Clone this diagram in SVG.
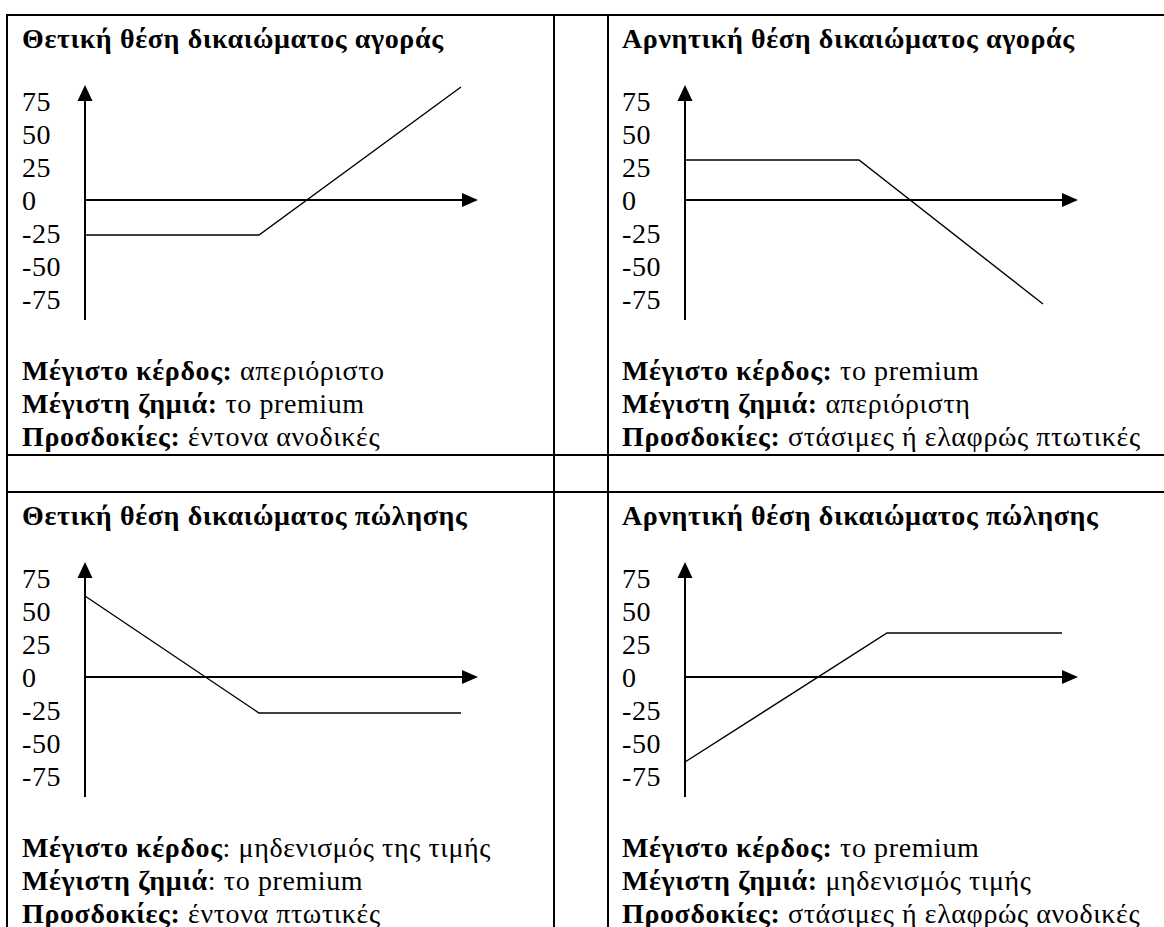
<svg xmlns="http://www.w3.org/2000/svg" width="1164" height="927" viewBox="0 0 1164 927">
<style>
text{font-family:"Liberation Serif","Times New Roman",serif;font-size:28px;letter-spacing:0.6px;fill:#000}
.b{font-weight:bold}
.grid{stroke:#000;stroke-width:2;fill:none}
.axis{stroke:#000;stroke-width:2;fill:none}
.pay{stroke:#000;stroke-width:1.4;fill:none}
.ah{fill:#000;stroke:none}
</style>
<defs>
<g id="ylab">
<text x="0" y="111">75</text>
<text x="0" y="144">50</text>
<text x="0" y="177">25</text>
<text x="0" y="210">0</text>
<text x="0" y="243">-25</text>
<text x="0" y="276">-50</text>
<text x="0" y="309">-75</text>
</g>
<g id="axes">
<line class="axis" x1="0" y1="320" x2="0" y2="98"/>
<polygon class="ah" points="0,85 -7.5,101 7.5,101"/>
<line class="axis" x1="0" y1="200" x2="380" y2="200"/>
<polygon class="ah" points="393,200 377,193 377,207"/>
</g>
</defs>
<g id="table" class="grid">
<line x1="6" y1="15" x2="1164" y2="15"/>
<line x1="6" y1="455" x2="1164" y2="455"/>
<line x1="6" y1="492" x2="1164" y2="492"/>
<line x1="7" y1="14" x2="7" y2="927"/>
<line x1="554" y1="14" x2="554" y2="927"/>
<line x1="608" y1="14" x2="608" y2="927"/>
</g>
<g id="cell-long-call">
<text class="b" x="22" y="48">Θετική θέση δικαιώματος αγοράς</text>
<use href="#ylab" x="22" y="0"/>
<use href="#axes" x="85" y="0"/>
<polyline class="pay" points="85,235 259,235 461,87"/>
<text x="22" y="380"><tspan class="b">Μέγιστο κέρδος:</tspan> απεριόριστο</text>
<text x="22" y="413"><tspan class="b">Μέγιστη ζημιά:</tspan> το premium</text>
<text x="22" y="446"><tspan class="b">Προσδοκίες:</tspan> έντονα ανοδικές</text>
</g>
<g id="cell-short-call">
<text class="b" x="622" y="48">Αρνητική θέση δικαιώματος αγοράς</text>
<use href="#ylab" x="622" y="0"/>
<use href="#axes" x="685" y="0"/>
<polyline class="pay" points="685,160 859,160 1043,304"/>
<text x="622" y="380"><tspan class="b">Μέγιστο κέρδος:</tspan> το premium</text>
<text x="622" y="413"><tspan class="b">Μέγιστη ζημιά:</tspan> απεριόριστη</text>
<text x="622" y="446"><tspan class="b">Προσδοκίες:</tspan> στάσιμες ή ελαφρώς πτωτικές</text>
</g>
<g id="cell-long-put">
<text class="b" x="22" y="525">Θετική θέση δικαιώματος πώλησης</text>
<use href="#ylab" x="22" y="477"/>
<use href="#axes" x="85" y="477"/>
<polyline class="pay" points="85,596 259,713 461,713"/>
<text x="22" y="857"><tspan class="b">Μέγιστο κέρδος</tspan>: μηδενισμός της τιμής</text>
<text x="22" y="890"><tspan class="b">Μέγιστη ζημιά</tspan>: το premium</text>
<text x="22" y="923"><tspan class="b">Προσδοκίες:</tspan> έντονα πτωτικές</text>
</g>
<g id="cell-short-put">
<text class="b" x="622" y="525">Αρνητική θέση δικαιώματος πώλησης</text>
<use href="#ylab" x="622" y="477"/>
<use href="#axes" x="685" y="477"/>
<polyline class="pay" points="685,762 887,633 1062,633"/>
<text x="622" y="857"><tspan class="b">Μέγιστο κέρδος:</tspan> το premium</text>
<text x="622" y="890"><tspan class="b">Μέγιστη ζημιά:</tspan> μηδενισμός τιμής</text>
<text x="622" y="923"><tspan class="b">Προσδοκίες:</tspan> στάσιμες ή ελαφρώς ανοδικές</text>
</g>
</svg>
